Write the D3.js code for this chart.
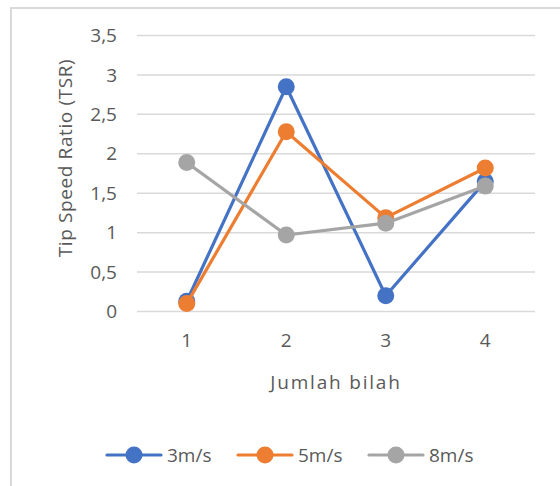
<!DOCTYPE html>
<html>
<head>
<meta charset="utf-8">
<script src="https://cdn.jsdelivr.net/npm/d3@7"></script>
<style>
  html, body { margin: 0; padding: 0; background: #fff; }
  svg { display: block; }
  text { font-family: "Open Sans", "Noto Sans", sans-serif; fill: #595959; }
</style>
</head>
<body>
<svg id="chart" width="560" height="486"></svg>
<script>
// Number of blades on the x axis, TSR per wind speed
const categories = ["1", "2", "3", "4"];
const seriesNames = ["3m/s", "5m/s", "8m/s"];
const tsr3 = [0.13, 2.85, 0.2, 1.65];
const tsr5 = [0.1, 2.28, 1.19, 1.82];
const tsr8 = [1.89, 0.97, 1.12, 1.59];
const yTicks = [0, 0.5, 1, 1.5, 2, 2.5, 3, 3.5];
const colors = ["#4472C4", "#ED7D31", "#A5A5A5"];

const series = seriesNames.map((name, i) => ({
  name,
  values: [tsr3, tsr5, tsr8][i],
  color: colors[i]
}));

const svg = d3.select("#chart");

// chart frame
svg.append("rect")
  .attr("x", 11).attr("y", 8)
  .attr("width", 570).attr("height", 500)
  .attr("fill", "none")
  .attr("stroke", "#D9D9D9")
  .attr("stroke-width", 2);

const plot = { left: 137, right: 535, top: 35.5, bottom: 311.5 };

const x = d3.scaleBand()
  .domain(categories)
  .range([plot.left, plot.right]);

const y = d3.scaleLinear()
  .domain([0, 3.5])
  .range([plot.bottom, plot.top]);

// horizontal gridlines
svg.append("g")
  .selectAll("line")
  .data(yTicks)
  .join("line")
  .attr("x1", plot.left).attr("x2", plot.right)
  .attr("y1", d => y(d)).attr("y2", d => y(d))
  .attr("stroke", "#D9D9D9")
  .attr("stroke-width", 1.5);

// y tick labels (comma decimal separator)
const fmt = d => String(d).replace(".", ",");
const yAxis = d3.axisLeft(y).tickValues(yTicks).tickFormat(fmt).tickSize(0).tickPadding(0);
const gy = svg.append("g").attr("transform", `translate(117,0)`).call(yAxis);
gy.select(".domain").remove();
gy.selectAll("text")
  .style("font-size", "19px")
  .style("font-family", "'Open Sans', sans-serif")
  .attr("fill", "#595959");

// x tick labels
const xAxis = d3.axisBottom(x).tickSize(0).tickPadding(0);
const gx = svg.append("g").attr("transform", `translate(0,333)`).call(xAxis);
gx.select(".domain").remove();
gx.selectAll("text")
  .style("font-size", "19px")
  .style("font-family", "'Open Sans', sans-serif")
  .attr("fill", "#595959");

// axis titles
svg.append("text")
  .attr("transform", `translate(72,158) rotate(-90)`)
  .attr("text-anchor", "middle")
  .style("font-size", "19px")
  .style("letter-spacing", "0.6px")
  .text("Tip Speed Ratio (TSR)");

svg.append("text")
  .attr("x", (plot.left + plot.right) / 2)
  .attr("y", 389)
  .attr("text-anchor", "middle")
  .style("font-size", "19px")
  .style("letter-spacing", "1.8px")
  .text("Jumlah bilah");

// series lines and markers
const cx = c => x(c) + x.bandwidth() / 2;
const line = d3.line()
  .x((d, i) => cx(categories[i]))
  .y(d => y(d));

const gs = svg.append("g")
  .selectAll("g")
  .data(series)
  .join("g");

gs.append("path")
  .attr("d", d => line(d.values))
  .attr("fill", "none")
  .attr("stroke", d => d.color)
  .attr("stroke-width", 3.2)
  .attr("stroke-linejoin", "round");

gs.selectAll("circle")
  .data(d => d.values.map((v, i) => ({ v, c: categories[i], color: d.color })))
  .join("circle")
  .attr("cx", d => cx(d.c))
  .attr("cy", d => y(d.v))
  .attr("r", 8.5)
  .attr("fill", d => d.color);

// legend
const legendX = [107, 238, 369];
const lg = svg.append("g")
  .selectAll("g")
  .data(series)
  .join("g")
  .attr("transform", (d, i) => `translate(${legendX[i]},455)`);

lg.append("line")
  .attr("x1", 0).attr("x2", 54)
  .attr("stroke", d => d.color)
  .attr("stroke-width", 3.2)
  .attr("stroke-linecap", "round");

lg.append("circle")
  .attr("cx", 27).attr("r", 8.5)
  .attr("fill", d => d.color);

lg.append("text")
  .attr("x", 60)
  .attr("dy", "0.35em")
  .style("font-size", "19px")
  .text(d => d.name);
</script>
</body>
</html>
